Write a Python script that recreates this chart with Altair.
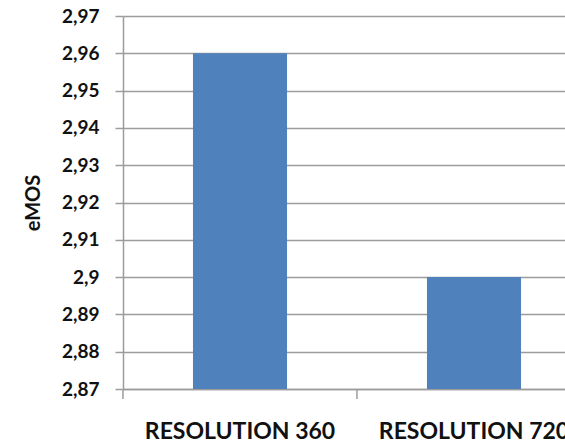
import altair as alt
import pandas as pd

# eMOS per resolution
categories = ["RESOLUTION 360", "RESOLUTION 720"]
emos = [2.96, 2.90]
y_ticks = [2.87, 2.88, 2.89, 2.90, 2.91, 2.92, 2.93, 2.94, 2.95, 2.96, 2.97]

df = pd.DataFrame({"res": categories, "emos": emos})

FONT = "Lato"
GRID = "#9c9c9c"

x_scale = alt.Scale(range=[0, 468], paddingInner=0.598, paddingOuter=0.299)
x_axis = alt.Axis(
    title=None,
    labelAngle=0,
    labelLimit=0,
    labelOverlap=False,
    ticks=False,
    domainColor=GRID,
    domainWidth=1.5,
    labelFont=FONT,
    labelFontSize=23,
    labelFontWeight="bold",
    labelColor="#111111",
    labelPadding=31,
    grid=False,
)

bars = alt.Chart(df).mark_bar(color="#4f81bd", clip=True).encode(
    x=alt.X("res:N", sort=categories, scale=x_scale, axis=x_axis),
    y=alt.Y(
        "emos:Q",
        scale=alt.Scale(domain=[2.87, 2.97], zero=False, nice=False),
        axis=alt.Axis(
            title="eMOS",
            values=y_ticks,
            labelExpr="replace(format(datum.value, '.3~g'), '.', ',')",
            tickSize=8,
            tickColor=GRID,
            tickWidth=1.5,
            domainColor=GRID,
            domainWidth=1.5,
            grid=True,
            gridColor=GRID,
            gridWidth=1.5,
            labelFont=FONT,
            labelFontSize=19,
            labelFontWeight="bold",
            labelColor="#111111",
            labelPadding=16,
            titleFont=FONT,
            titleFontSize=20,
            titleFontWeight="bold",
            titleColor="#111111",
            titleX=-90,
            titleBaseline="middle",
        ),
    ),
)

# category-boundary ticks below the x axis (shifted from bar edge to band edge)
boundary_ticks = alt.Chart(df).mark_rule(color=GRID, strokeWidth=1.5).encode(
    x=alt.X("res:N", sort=categories, scale=x_scale, bandPosition=0, axis=x_axis),
    xOffset=alt.value(-70),
    y=alt.value(373),
    y2=alt.value(383),
)

chart = alt.layer(bars, boundary_ticks).properties(
    width=442,
    height=373,
    padding={"left": 123, "top": 16, "right": 0, "bottom": 57},
    autosize=alt.AutoSizeParams(type="none"),
).configure_view(stroke=None)

chart.save("out.html", embed_options={"renderer": "svg", "actions": False})
